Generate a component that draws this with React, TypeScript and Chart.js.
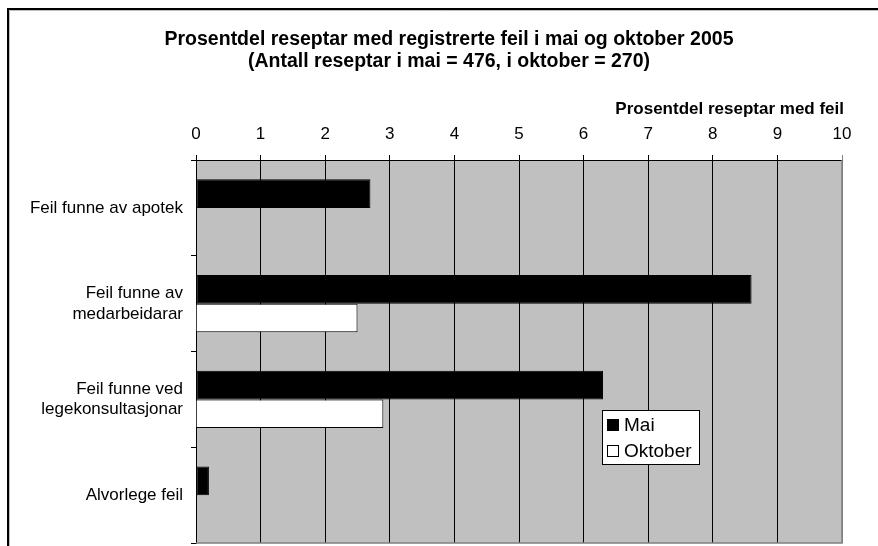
import React, { useEffect, useRef } from "react";
import { Chart, registerables } from "chart.js";

Chart.register(...registerables);

const FONT = "'Liberation Sans', Arial, sans-serif";

const titleLines = [
  "Prosentdel reseptar med registrerte feil i mai og oktober 2005",
  "(Antall reseptar i mai = 476, i oktober = 270)",
];
const axisTitle = "Prosentdel reseptar med feil";

const categories: (string | string[])[] = [
  "Feil funne av apotek",
  ["Feil funne av", "medarbeidarar"],
  ["Feil funne ved", "legekonsultasjonar"],
  "Alvorlege feil",
];

const seriesNames = ["Mai", "Oktober"];
const maiValues = [2.7, 8.6, 6.3, 0.2];
const oktoberValues = [0, 2.5, 2.9, 0];

const xMin = 0;
const xMax = 10;
const xStep = 1;

const decorPlugin = {
  id: "decor",
  beforeDraw(chart: any) {
    const { ctx, chartArea } = chart;
    ctx.save();
    ctx.fillStyle = "#ffffff";
    ctx.fillRect(0, 0, chart.width, chart.height);
    // outer border
    ctx.strokeStyle = "#000000";
    ctx.lineWidth = 2;
    ctx.strokeRect(8, 9, chart.width + 20, chart.height + 20);
    ctx.strokeStyle = "#bdbdbd";
    ctx.lineWidth = 1;
    ctx.beginPath();
    ctx.moveTo(9.5, 10.5);
    ctx.lineTo(chart.width + 10, 10.5);
    ctx.moveTo(9.5, 10.5);
    ctx.lineTo(9.5, chart.height + 10);
    ctx.stroke();
    // plot background
    ctx.fillStyle = "#C0C0C0";
    ctx.fillRect(chartArea.left, chartArea.top, chartArea.right - chartArea.left, chartArea.bottom - chartArea.top);
    // title
    ctx.fillStyle = "#000000";
    ctx.font = `bold 19.5px ${FONT}`;
    ctx.textAlign = "center";
    ctx.textBaseline = "alphabetic";
    ctx.fillText(titleLines[0], 449, 45);
    ctx.fillText(titleLines[1], 449, 66.5);
    // axis title
    ctx.font = `bold 17px ${FONT}`;
    ctx.textAlign = "right";
    ctx.fillText(axisTitle, chartArea.right + 2, 114);
    ctx.restore();
  },
  afterDraw(chart: any) {
    const { ctx, chartArea } = chart;
    ctx.save();
    // plot right / bottom border
    ctx.strokeStyle = "#808080";
    ctx.lineWidth = 1.5;
    ctx.beginPath();
    ctx.moveTo(chartArea.right, chartArea.top);
    ctx.lineTo(chartArea.right, chartArea.bottom);
    ctx.lineTo(chartArea.left, chartArea.bottom);
    ctx.stroke();
    // legend
    const lx = chartArea.left + 406;
    const ly = chartArea.top + 250;
    const lw = 97;
    const lh = 54;
    ctx.fillStyle = "#ffffff";
    ctx.fillRect(lx, ly, lw, lh);
    ctx.strokeStyle = "#000000";
    ctx.lineWidth = 1;
    ctx.strokeRect(lx + 0.5, ly + 0.5, lw, lh);
    const colors = ["#000000", "#ffffff"];
    ctx.font = `19px ${FONT}`;
    ctx.textAlign = "left";
    ctx.textBaseline = "middle";
    seriesNames.forEach((name, i) => {
      const cy = ly + 15 + i * 26;
      ctx.fillStyle = colors[i];
      ctx.fillRect(lx + 5, cy - 6, 12, 12);
      ctx.strokeStyle = "#000000";
      ctx.strokeRect(lx + 5.5, cy - 5.5, 11, 11);
      ctx.fillStyle = "#000000";
      ctx.fillText(name, lx + 22, cy + 1);
    });
    ctx.restore();
  },
};

export default function App() {
  const canvasRef = useRef<HTMLCanvasElement | null>(null);

  useEffect(() => {
    if (!canvasRef.current) return;
    const chart = new Chart(canvasRef.current, {
      type: "bar",
      data: {
        labels: categories,
        datasets: [
          {
            label: seriesNames[0],
            data: maiValues,
            backgroundColor: "#000000",
            borderColor: "#000000",
            borderWidth: 1,
            borderSkipped: false,
            categoryPercentage: 0.6,
            barPercentage: 1.0,
          },
          {
            label: seriesNames[1],
            data: oktoberValues,
            backgroundColor: "#ffffff",
            borderColor: "#000000",
            borderWidth: 1,
            borderSkipped: "start",
            categoryPercentage: 0.6,
            barPercentage: 1.0,
          },
        ],
      },
      options: {
        indexAxis: "y",
        responsive: false,
        animation: false,
        devicePixelRatio: 1,
        layout: { padding: { left: 0, top: 0, right: 36, bottom: 3 } },
        plugins: {
          legend: { display: false },
          title: { display: false },
          tooltip: { enabled: false },
        },
        scales: {
          x: {
            type: "linear",
            position: "top",
            min: xMin,
            max: xMax,
            ticks: {
              stepSize: xStep,
              color: "#000000",
              font: { family: FONT, size: 17 },
              padding: 10,
            },
            grid: {
              color: (c: any) => (c.tick && c.tick.value === xMax ? "#808080" : "#000000"),
              lineWidth: 1,
              tickLength: 5,
              drawTicks: true,
            },
            border: { display: true, color: "#000000", width: 1 },
            afterFit: (s: any) => {
              s.height = 160;
              s.paddingLeft = 0;
            },
          },
          y: {
            type: "category",
            position: "left",
            ticks: {
              color: "#000000",
              font: { family: FONT, size: 17, lineHeight: 1.2 },
              padding: 8,
            },
            grid: {
              offset: true,
              drawOnChartArea: false,
              tickLength: 5,
              color: "#000000",
            },
            border: { display: true, color: "#000000", width: 1 },
            afterFit: (s: any) => {
              s.width = 196;
              s.paddingTop = 0;
              s.paddingBottom = 0;
            },
          },
        },
      },
      plugins: [decorPlugin],
    });
    return () => chart.destroy();
  }, []);

  return (
    <div style={{ position: "absolute", left: 0, top: 0, width: 878, height: 546 }}>
      <canvas ref={canvasRef} width={878} height={546} style={{ display: "block" }} />
    </div>
  );
}
